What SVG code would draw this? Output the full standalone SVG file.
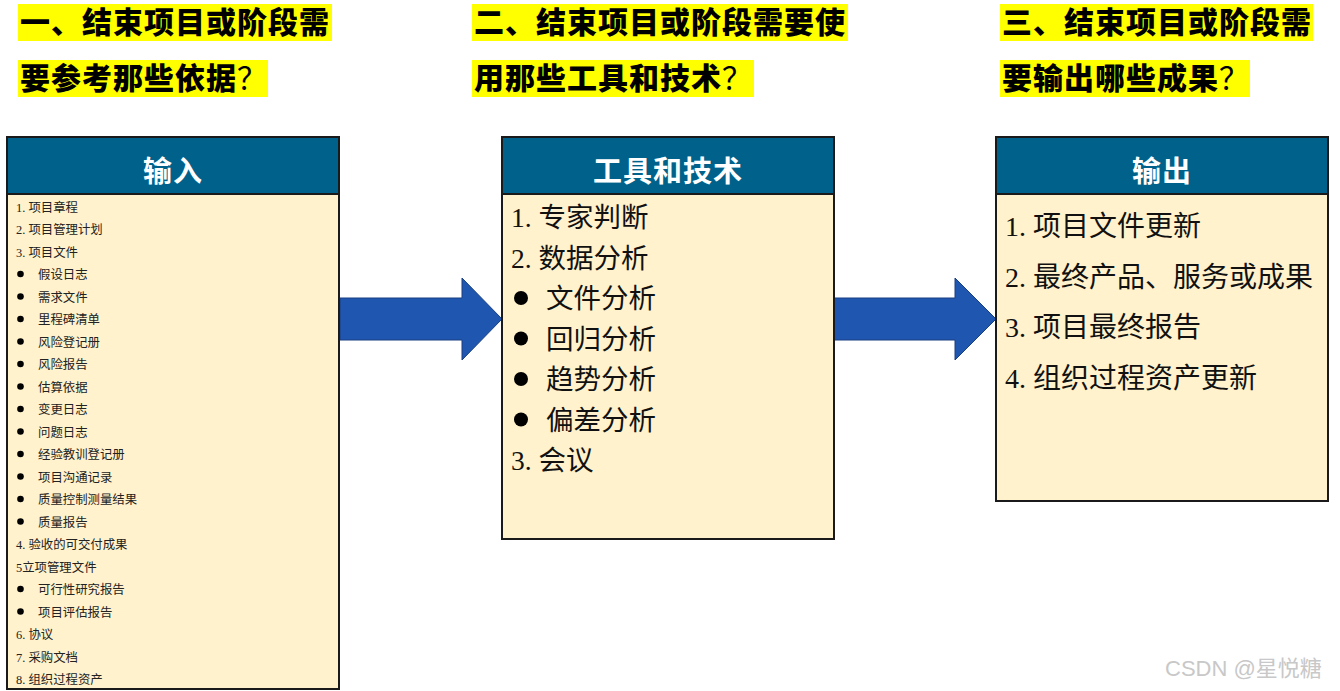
<svg xmlns="http://www.w3.org/2000/svg" width="1340" height="691" viewBox="0 0 1340 691">
<style>
.q{font-family:"Noto Sans CJK SC",sans-serif;font-weight:900;font-size:30px;fill:#000;letter-spacing:1px}
.qm{font-weight:400}
.hl{fill:#FFFF00}
.box{fill:#FFF2CC;stroke:#1a1a1a;stroke-width:2}
.hd{fill:#00628B;stroke:#1a1a1a;stroke-width:2}
.ht{font-family:"Noto Sans CJK SC",sans-serif;font-weight:700;font-size:29px;fill:#fff;text-anchor:middle;letter-spacing:1px}
.s{font-family:"Liberation Serif","Noto Sans CJK SC",serif;font-size:12.4px;fill:#222}
.m{font-family:"Liberation Serif","Noto Sans CJK SC",serif;font-size:27.5px;fill:#111}
.l{font-family:"Liberation Serif","Noto Sans CJK SC",serif;font-size:28px;fill:#111}
.arr{fill:#1F57B0;stroke:#1a3f80;stroke-width:1}
.wm{font-family:"Liberation Sans","Noto Sans CJK SC",sans-serif;font-size:22px;fill:#c8c8c8}
</style>
<rect width="1340" height="691" fill="#fff"/>
<g id="title1">
<rect class="hl" x="18" y="4" width="314" height="37"/>
<text class="q" x="20" y="33">一、结束项目或阶段需</text>
<rect class="hl" x="18" y="60" width="250" height="37"/>
<text class="q" x="20" y="89">要参考那些依据<tspan class="qm">？</tspan></text>
</g>
<g id="title2">
<rect class="hl" x="472" y="4" width="376" height="37"/>
<text class="q" x="474" y="33">二、结束项目或阶段需要使</text>
<rect class="hl" x="472" y="60" width="282" height="37"/>
<text class="q" x="474" y="89">用那些工具和技术<tspan class="qm">？</tspan></text>
</g>
<g id="title3">
<rect class="hl" x="1000" y="4" width="313" height="37"/>
<text class="q" x="1002" y="33">三、结束项目或阶段需</text>
<rect class="hl" x="1000" y="60" width="250" height="37"/>
<text class="q" x="1002" y="89">要输出哪些成果<tspan class="qm">？</tspan></text>
</g>
<g id="connectors">
<polygon class="arr" points="340,298 462,298 462,278 502,319 462,360 462,340 340,340"/>
<polygon class="arr" points="834,298 955,298 955,278 996,319 955,360 955,340 834,340"/>
</g>
<g id="input">
<rect class="box" x="7" y="137" width="332" height="552"/>
<rect class="hd" x="7" y="137" width="332" height="57"/>
<text class="ht" x="173" y="182">输入</text>
<g class="s">
<text x="16" y="211.5">1. 项目章程</text>
<text x="16" y="234">2. 项目管理计划</text>
<text x="16" y="256.5">3. 项目文件</text>
<text x="38" y="279">假设日志</text>
<text x="38" y="301.5">需求文件</text>
<text x="38" y="324">里程碑清单</text>
<text x="38" y="346.5">风险登记册</text>
<text x="38" y="369">风险报告</text>
<text x="38" y="391.5">估算依据</text>
<text x="38" y="414">变更日志</text>
<text x="38" y="436.5">问题日志</text>
<text x="38" y="459">经验教训登记册</text>
<text x="38" y="481.5">项目沟通记录</text>
<text x="38" y="504">质量控制测量结果</text>
<text x="38" y="526.5">质量报告</text>
<text x="16" y="549">4. 验收的可交付成果</text>
<text x="16" y="571.5">5立项管理文件</text>
<text x="38" y="594">可行性研究报告</text>
<text x="38" y="616.5">项目评估报告</text>
<text x="16" y="639">6. 协议</text>
<text x="16" y="661.5">7. 采购文档</text>
<text x="16" y="684">8. 组织过程资产</text>
</g>
<g fill="#000">
<circle cx="20.5" cy="274" r="3.3"/><circle cx="20.5" cy="296.5" r="3.3"/><circle cx="20.5" cy="319" r="3.3"/>
<circle cx="20.5" cy="341.5" r="3.3"/><circle cx="20.5" cy="364" r="3.3"/><circle cx="20.5" cy="386.5" r="3.3"/>
<circle cx="20.5" cy="409" r="3.3"/><circle cx="20.5" cy="431.5" r="3.3"/><circle cx="20.5" cy="454" r="3.3"/>
<circle cx="20.5" cy="476.5" r="3.3"/><circle cx="20.5" cy="499" r="3.3"/><circle cx="20.5" cy="521.5" r="3.3"/>
<circle cx="20.5" cy="589" r="3.3"/><circle cx="20.5" cy="611.5" r="3.3"/>
</g>
</g>
<g id="tools">
<rect class="box" x="502" y="137" width="332" height="402"/>
<rect class="hd" x="502" y="137" width="332" height="57"/>
<text class="ht" x="668" y="182">工具和技术</text>
<g class="m">
<text x="511" y="227">1. 专家判断</text>
<text x="511" y="267.5">2. 数据分析</text>
<text x="546" y="308">文件分析</text>
<text x="546" y="348.5">回归分析</text>
<text x="546" y="389">趋势分析</text>
<text x="546" y="429.5">偏差分析</text>
<text x="511" y="470">3. 会议</text>
</g>
<g fill="#000">
<circle cx="521" cy="298" r="7"/><circle cx="521" cy="338.5" r="7"/><circle cx="521" cy="379" r="7"/><circle cx="521" cy="419.5" r="7"/>
</g>
</g>
<g id="output">
<rect class="box" x="996" y="137" width="332" height="364"/>
<rect class="hd" x="996" y="137" width="332" height="57"/>
<text class="ht" x="1162" y="182">输出</text>
<g class="l">
<text x="1005" y="236">1. 项目文件更新</text>
<text x="1005" y="286.5">2. 最终产品、服务或成果</text>
<text x="1005" y="337">3. 项目最终报告</text>
<text x="1005" y="387.5">4. 组织过程资产更新</text>
</g>
</g>
<text class="wm" x="1165" y="676">CSDN @星悦糖</text>
</svg>
